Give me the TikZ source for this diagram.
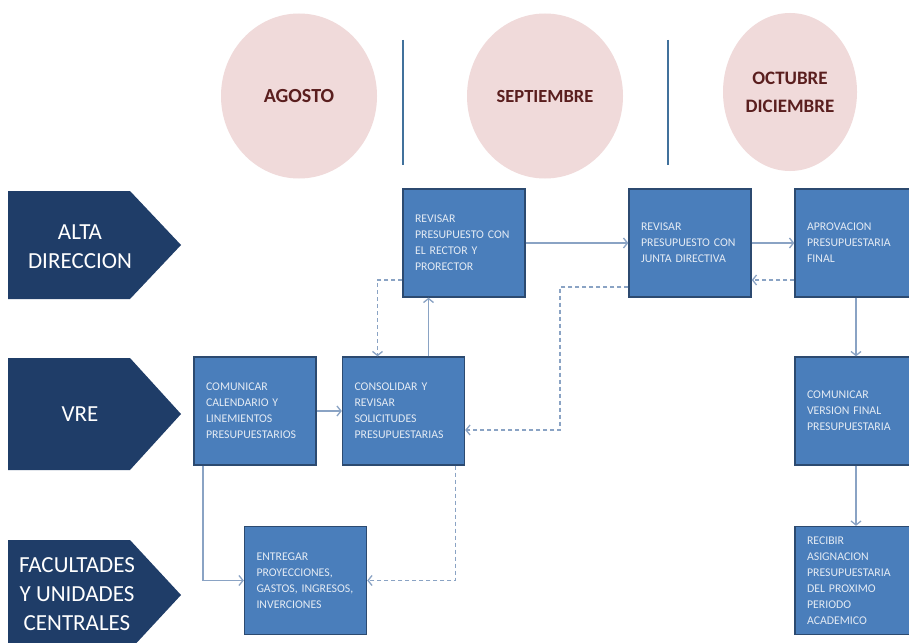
\documentclass[tikz,border=0pt]{standalone}
\usepackage{fontspec}
\setmainfont{Carlito}
\usetikzlibrary{arrows.meta,shapes.geometric}
\definecolor{boxfill}{HTML}{4A7EBB}
\definecolor{boxedge}{HTML}{2C4A70}
\definecolor{lanefill}{HTML}{1F3D68}
\definecolor{ellfill}{HTML}{F0DADA}
\definecolor{elltext}{HTML}{5A1E1E}
\definecolor{conn}{HTML}{8AA3C4}
\definecolor{sepline}{HTML}{41719C}
\definecolor{boxtext}{HTML}{E4EBF4}
\tikzset{
  stepbox/.style={draw=boxedge, line width=1.4pt, fill=boxfill, minimum width=122pt,
    minimum height=108pt, inner sep=0pt, text width=98pt, align=left,
    text=boxtext, font=\fontsize{11.8}{16}\selectfont},
  month/.style={ellipse, fill=ellfill, minimum width=156pt, minimum height=165pt,
    inner sep=0pt, align=center, text=elltext, font=\fontsize{19}{28}\selectfont\bfseries},
  lane/.style={fill=lanefill},
  lanetext/.style={text=white, align=center, font=\fontsize{23}{29}\selectfont},
  conarrow/.style={draw=conn, line width=1.3pt, -{Straight Barb[length=4pt,width=10pt]}},
  dasharrow/.style={conarrow, dashed, dash pattern=on 4pt off 3pt},
  sep/.style={draw=sepline, line width=2.6pt}
}
\begin{document}
\begin{tikzpicture}[x=1pt,y=-1pt]
\useasboundingbox (0,0) rectangle (909,642);
\fill[white] (0,0) rectangle (909,642);
% months
\node[month, font=\fontsize{20}{28}\selectfont\bfseries] (m1) at (299,96) {AGOSTO};
\node[month, font=\fontsize{18.5}{28}\selectfont\bfseries] (m2) at (545,96) {SEPTIEMBRE};
\node[month, minimum width=134pt, minimum height=158pt] (m3) at (790,92) {OCTUBRE\\DICIEMBRE};
\draw[sep] (403,40) -- (403,165);
\draw[sep] (668,40) -- (668,165);
% lanes
\fill[lane] (8,191) -- (130,191) -- (181,245) -- (130,299) -- (8,299) -- cycle;
\fill[lane] (8,358) -- (130,358) -- (181,414) -- (130,470) -- (8,470) -- cycle;
\fill[lane] (8,540) -- (130,540) -- (181,595) -- (130,650) -- (8,650) -- cycle;
\node[lanetext] (l1) at (80,247) {ALTA\\DIRECCION};
\node[lanetext] (l2) at (80,414) {VRE};
\node[lanetext] (l3) at (77,594) {FACULTADES\\Y UNIDADES\\CENTRALES};
% boxes
\node[stepbox] (b1) at (464,243) {REVISAR\\PRESUPUESTO CON\\EL RECTOR Y\\PRORECTOR};
\node[stepbox] (b2) at (690,243) {REVISAR\\PRESUPUESTO CON\\JUNTA DIRECTIVA};
\node[stepbox] (b3) at (856,243) {APROVACION\\PRESUPUESTARIA\\FINAL};
\node[stepbox] (b4) at (255,411) {COMUNICAR\\CALENDARIO Y\\LINEMIENTOS\\PRESUPUESTARIOS};
\node[stepbox] (b5) at (403.5,411) {CONSOLIDAR Y\\REVISAR\\SOLICITUDES\\PRESUPUESTARIAS};
\node[stepbox] (b6) at (856,411) {COMUNICAR\\VERSION FINAL\\PRESUPUESTARIA};
\node[stepbox] (b7) at (305.5,580.5) {ENTREGAR\\PROYECCIONES,\\GASTOS, INGRESOS,\\INVERCIONES};
\node[stepbox] (b8) at (856,580.5) {RECIBIR\\ASIGNACION\\PRESUPUESTARIA\\DEL PROXIMO\\PERIODO\\ACADEMICO};
% connectors
\draw[conarrow] (b4.east) -- (b5.west);
\draw[conarrow] ([xshift=25pt]b5.north) -- ([xshift=25pt]b5.north |- b1.south);
\draw[dasharrow] ([yshift=-37pt]b1.west) -| ([xshift=-26pt]b5.north);
\draw[conarrow] (b1.east) -- (b2.west);
\draw[conarrow] (b2.east) -- (b3.west);
\draw[dasharrow] ([yshift=-37pt]b3.west) -- ([yshift=-37pt]b2.east);
\coordinate (k1) at (560,287);
\draw[dasharrow] ([yshift=-44pt]b2.west) -- (k1) |- ([yshift=-19pt]b5.east);
\draw[conarrow] (b3.south) -- (b6.north);
\draw[conarrow] (b6.south) -- (b8.north);
\draw[conarrow] ([xshift=-52pt]b4.south) |- (b7.west);
\draw[dasharrow] ([xshift=52pt]b5.south) |- (b7.east);
\end{tikzpicture}
\end{document}
